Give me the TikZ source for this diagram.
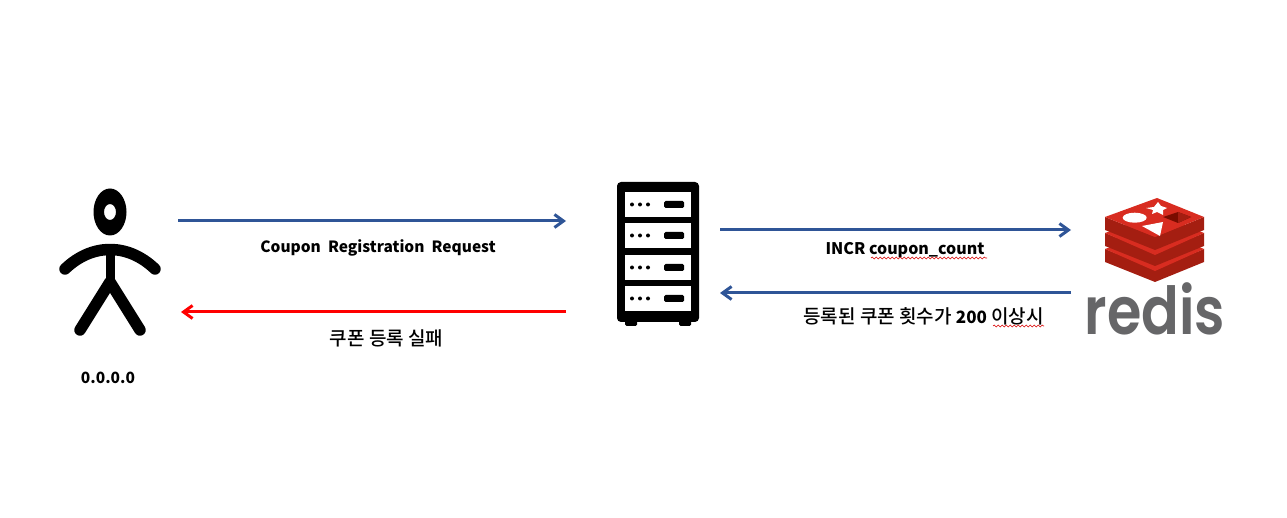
\documentclass[tikz,border=0pt]{standalone}
\usepackage{fontspec}
\usepackage{xcolor}
\usepackage{tikz}
\usetikzlibrary{positioning,arrows.meta,decorations.pathmorphing}
\setmainfont{Noto Sans CJK KR}
\newfontfamily\kofont{Noto Sans CJK KR Medium}
\newfontfamily\logofont{Poppins SemiBold}
\definecolor{reqblue}{RGB}{47,85,151}
\definecolor{failred}{RGB}{255,0,0}
\definecolor{redislight}{RGB}{216,44,32}
\definecolor{redisdark}{RGB}{164,30,17}
\definecolor{redisdeep}{RGB}{122,12,0}
\definecolor{redisgray}{RGB}{102,102,104}

\begin{document}
\begin{tikzpicture}[
    x=1pt, y=-1pt,
    iconbox/.style={rectangle, inner sep=0pt, outer sep=0pt},
    req/.style={-{Straight Barb[length=9pt, width=13pt, line width=3pt]}, line width=3pt, draw=reqblue},
    fail/.style={-{Straight Barb[length=9pt, width=13pt, line width=3pt]}, line width=3pt, draw=failred},
    lab/.style={font=\fontsize{15.5}{18}\selectfont\bfseries, inner sep=0pt, anchor=center},
    labko/.style={font=\fontsize{19}{20}\kofont, inner sep=0pt, anchor=center},
    limb/.style={line width=11.5pt, line cap=round, line join=round, draw=black},
    squiggle/.style={draw=red!85!black, line width=0.6pt, decorate, decoration={snake, segment length=4pt, amplitude=0.9pt}}
  ]
    \useasboundingbox (0,0) rectangle (1287,518);

    % anchors of the three icons
    \node[iconbox, minimum width=100pt, minimum height=147pt] (user) at (110,261.5) {};
    \node[iconbox, minimum width=82pt, minimum height=144pt] (server) at (658,254) {};
    \node[iconbox, minimum width=134pt, minimum height=135pt] (redis) at (1155,264.5) {};

    % user
    \fill[black, even odd rule] (110,212) ellipse [x radius=16.5, y radius=23.5] (110,212) ellipse [x radius=6, y radius=8];
    \draw[limb] (65,269) .. controls (92,243) and (128,243) .. (155,269);
    \draw[limb, line width=9pt, line cap=butt] (110,250) -- (110,280);
    \draw[limb] (80,330) -- (110,282) -- (140,330);

    % server
    \fill[black, rounded corners=4pt] (617,182) rectangle (699,322);
    \fill[black, rounded corners=1.5pt] (625,315) rectangle (637,326);
    \fill[black, rounded corners=1.5pt] (679,315) rectangle (691,326);
    \fill[white] (625,192) rectangle (691,217);
    \fill[white] (625,223) rectangle (691,248);
    \fill[white] (625,255) rectangle (691,280);
    \fill[white] (625,286) rectangle (691,311);
    \fill[black] (632,204.5) circle (2) (640,204.5) circle (2) (648,204.5) circle (2);
    \fill[black] (632,235.5) circle (2) (640,235.5) circle (2) (648,235.5) circle (2);
    \fill[black] (632,267.5) circle (2) (640,267.5) circle (2) (648,267.5) circle (2);
    \fill[black] (632,298.5) circle (2) (640,298.5) circle (2) (648,298.5) circle (2);
    \fill[black, rounded corners=1.5pt] (664,201) rectangle (684,208);
    \fill[black, rounded corners=1.5pt] (664,232) rectangle (684,239);
    \fill[black, rounded corners=1.5pt] (664,264) rectangle (684,271);
    \fill[black, rounded corners=1.5pt] (664,295) rectangle (684,302);

    % redis logo
    \fill[redisdark] (1105,249) -- (1155,269) -- (1204,249) -- (1204,262) -- (1155,282) -- (1105,262) -- cycle;
    \fill[redislight] (1105,249) -- (1157,230) -- (1204,249) -- (1155,271) -- cycle;
    \fill[redisdark] (1105,233) -- (1155,253) -- (1204,233) -- (1204,246) -- (1155,266) -- (1105,246) -- cycle;
    \fill[redislight] (1105,233) -- (1157,214) -- (1204,233) -- (1155,255) -- cycle;
    \fill[redisdark] (1105,217) -- (1155,237) -- (1204,217) -- (1204,230) -- (1155,250) -- (1105,230) -- cycle;
    \fill[redislight] (1105,217) -- (1157,198) -- (1204,217) -- (1155,237) -- cycle;
    \fill[white] (1134.7,217.7) ellipse [x radius=12, y radius=5];
    \fill[white] (1158,202) -- (1161,206) -- (1167,208) -- (1163,210) -- (1163,215) -- (1157,212) -- (1152,214) -- (1153,210) -- (1146,208) -- (1154,207) -- cycle;
    \fill[white] (1142,226) -- (1163,222) -- (1160,236) -- cycle;
    \fill[redisdeep] (1163,217) -- (1178,212) -- (1191,217) -- (1178,223) -- cycle;
    \fill[redisdark] (1178,212) -- (1191,217) -- (1178,223) -- cycle;
    \node[inner sep=0pt, text=redisgray, font=\fontsize{58}{60}\logofont, xscale=0.96, yscale=1.14] (redistext) at (1155,309) {redis};

    % connectors
    \draw[req] ([xshift=18pt, yshift=40.5pt]user.east) -- ([xshift=-51pt, yshift=33pt]server.west);
    \draw[fail] ([xshift=-51pt, yshift=-58pt]server.west) -- ([xshift=21pt, yshift=-50.5pt]user.east);
    \draw[req] ([xshift=21pt, yshift=24pt]server.east) -- ([xshift=-17pt, yshift=34.5pt]redis.west);
    \draw[req] ([xshift=-17pt, yshift=-28.5pt]redis.west) -- ([xshift=21pt, yshift=-39pt]server.east);

    % labels
    \node[lab] (reqlab) at (378,248) {Coupon\ \ Registration\ \ Request};
    \node[labko] (faillab) at (386.5,338) {쿠폰 등록 실패};
    \node[lab] (iplab) at (108,377.5) {0.0.0.0};
    \node[lab, font=\fontsize{16}{18}\selectfont\bfseries] (incrlab) at (905,250.5) {INCR coupon\_count};
    \node[labko] (limitlab) at (923.5,316.5) {등록된 쿠폰 횟수가 {\fontsize{17}{18}\rmfamily\bfseries 200} 이상시};

    % spell check marks
    \draw[squiggle] (871,258) -- (987,258);
    \draw[squiggle] (993,326) -- (1044,326);
  \end{tikzpicture}
\end{document}
